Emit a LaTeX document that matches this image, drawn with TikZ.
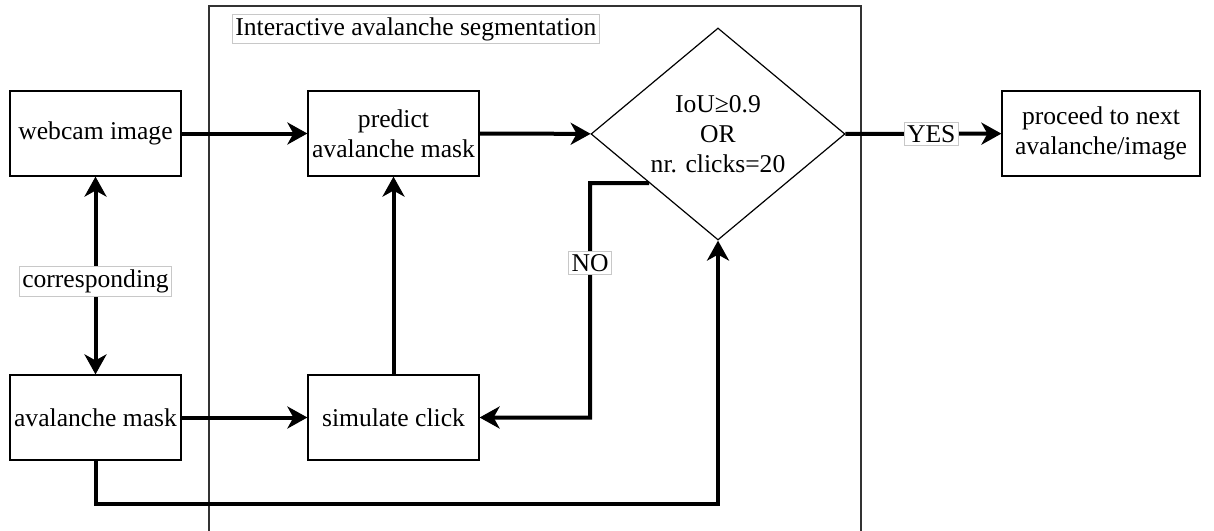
\documentclass[tikz,border=0pt]{standalone}
\usepackage{fontspec}
\setmainfont{Liberation Serif}
\usetikzlibrary{arrows.meta,shapes.geometric,calc}
\definecolor{avaInk}{HTML}{000000}
\definecolor{avaFrame}{HTML}{333333}
\definecolor{avaTagEdge}{HTML}{C8C8C8}
\newcommand{\avafont}{\fontsize{12.8}{15}\selectfont}
\tikzset{
  ava frame/.style={draw=avaFrame, line width=0.55pt},
  ava box/.style={draw=avaInk, line width=0.6pt, fill=white, minimum width=85.5pt, minimum height=42.5pt, inner sep=2pt, align=center, font=\avafont},
  ava check/.style={diamond, draw=avaInk, line width=0.6pt, fill=white, minimum width=127pt, minimum height=106pt, aspect=1.2, inner sep=0pt, align=center, font=\avafont},
  ava flow/.style={draw=avaInk, line width=2pt, -{Stealth[length=10pt, width=11pt, inset=3pt]}},
  ava tag/.style={draw=avaTagEdge, line width=0.4pt, fill=white, inner sep=1.5pt, font=\avafont},
}

\begin{document}
\begin{tikzpicture}[x=0.5pt, y=-0.5pt]
  \useasboundingbox (0,0) rectangle (1214,530);

  % outer frame of the segmentation loop
  \draw[ava frame] (209,540) -- (209,6) -- (861,6) -- (861,540);
  \node[ava tag, anchor=west] (title) at (232,29) {Interactive avalanche segmentation};

  % boxes
  \node[ava box] (webcam) at (95.5,133.5) {webcam image};
  \node[ava box] (mask) at (95.5,417.5) {avalanche mask};
  \node[ava box] (predict) at (393.5,133.5) {predict\\avalanche mask};
  \node[ava box] (click) at (393.5,417.5) {simulate click};
  \node[ava check] (decision) at (718,134) {IoU≥0.9\\OR\\nr. clicks=20};
  \node[ava box, minimum width=99pt] (proceed) at (1101,133.5) {proceed to next\\avalanche/image};

  % arrows
  \draw[ava flow] (webcam) -- (predict);
  \draw[ava flow] (predict) -- (decision);
  \draw[ava flow] (decision) -- node[ava tag, pos=0.55] {YES} (proceed);
  \draw[ava flow, {Stealth[length=10pt, width=11pt, inset=3pt]}-{Stealth[length=10pt, width=11pt, inset=3pt]}]
    (webcam) -- node[ava tag, pos=0.53] {corresponding} (mask);
  \draw[ava flow] (mask) -- (click);
  \draw[ava flow] (click) -- (predict);
  \coordinate (noturn) at (590,183);
  \draw[ava flow] ($(decision.west)!0.46!(decision.south)$) -- (noturn)
    |- node[ava tag, pos=0.17] {NO} (click.east);
  \draw[ava flow] (mask.south) -- ++(0,43) -| (decision.south);
\end{tikzpicture}
\end{document}
